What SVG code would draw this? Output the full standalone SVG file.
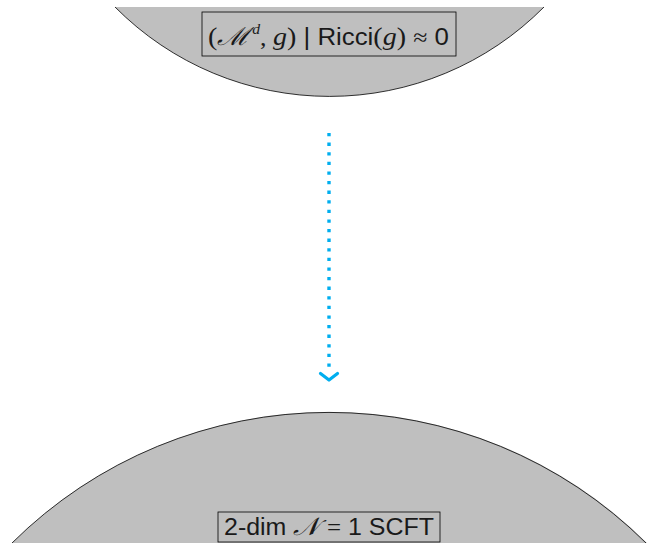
<svg xmlns="http://www.w3.org/2000/svg" width="647" height="543" viewBox="0 0 647 543">
<style>
.blob{fill:#bfbfbf;stroke:#000;stroke-width:0.8}
.box{fill:none;stroke:#000;stroke-width:0.8}
.lbl{font-family:"Liberation Sans","DejaVu Sans",sans-serif;font-size:23px;fill:#1a1a1a}
.m{font-family:"Liberation Serif","DejaVu Serif",serif;font-style:italic}
.r{font-family:"Liberation Serif","DejaVu Serif",serif}
.conn{fill:none;stroke:#00aeef}
</style>
<rect width="647" height="543" fill="#fff"/>
<g id="top-node">
<path class="blob" d="M115,7 A302,302 0 0 0 544,7 Z" style="stroke:none"/>
<path class="blob" style="fill:none" d="M115,7 A302,302 0 0 0 544,7"/>
<rect class="box" x="202" y="12" width="254" height="44"/>
<text class="lbl" x="208" y="45" textLength="241" lengthAdjust="spacingAndGlyphs"><tspan class="r" font-size="25">(</tspan><tspan class="m" font-size="25">ℳ</tspan><tspan class="m" font-size="14" dx="2" dy="-11">d</tspan><tspan class="r" dy="11">, </tspan><tspan class="m" font-size="25">g</tspan><tspan class="r" font-size="25">)</tspan> | Ricci<tspan class="r" font-size="25">(</tspan><tspan class="m" font-size="25">g</tspan><tspan class="r" font-size="25">)</tspan> <tspan class="r">≈</tspan> 0</text>
</g>
<g id="bottom-node">
<path class="blob" d="M12,543 A450,450 0 0 1 647,543 Z" style="stroke:none"/>
<path class="blob" style="fill:none" d="M12,543 A450,450 0 0 1 646,543"/>
<rect class="box" x="218" y="512" width="222" height="30"/>
<text class="lbl" x="224" y="535" textLength="210" lengthAdjust="spacingAndGlyphs">2-dim <tspan class="m" font-size="25">𝒩</tspan><tspan class="r" dx="7">=</tspan> 1 SCFT</text>
</g>
<g id="connectors">
<path class="conn" d="M329,133 V368" stroke-width="3.4" stroke-dasharray="3.3 6.3"/>
<polyline class="conn" points="320.5,373.5 329,380 337.5,373.5" stroke-width="3.2" stroke-linecap="round" stroke-linejoin="round"/>
</g>
</svg>
